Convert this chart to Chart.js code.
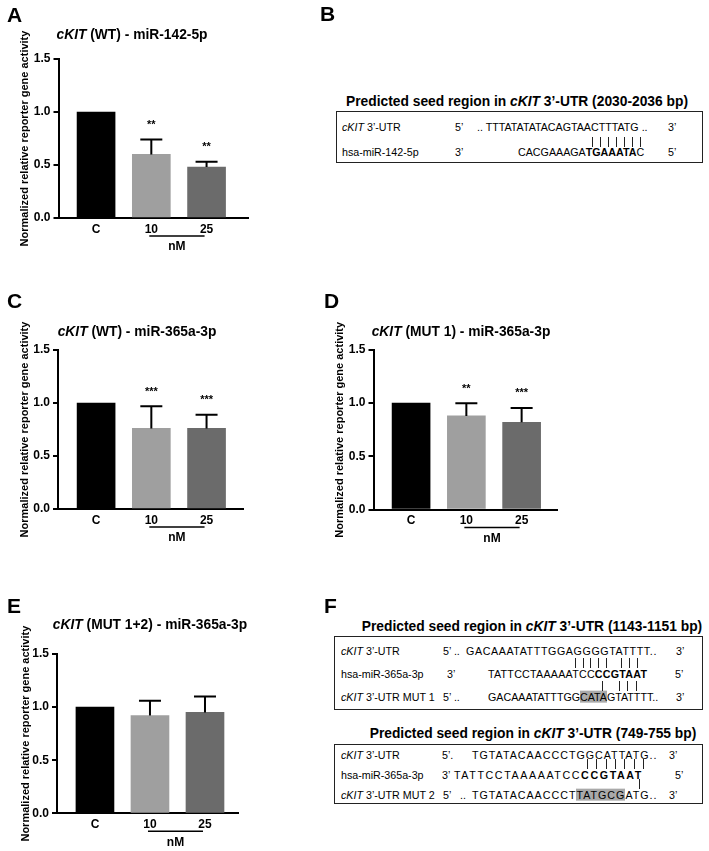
<!DOCTYPE html>
<html>
<head>
<meta charset="utf-8">
<script src="https://cdn.jsdelivr.net/npm/chart.js@4.4.0/dist/chart.umd.min.js"></script>
<style>
  body { margin: 0; background: #fff; font-family: "Liberation Sans", Arial, sans-serif; color: #000; }
  #fig { position: relative; width: 709px; height: 851px; overflow: hidden; }
  canvas { position: absolute; }
  .t { position: absolute; white-space: nowrap; line-height: 1; transform: translate(0, -50%); }
  .c { transform: translate(-50%, -50%); }
  .letter { font-weight: bold; font-size: 21px; }
  .ttl { font-weight: bold; font-size: 13.8px; }
  .seq { font-size: 10.7px; }
  .box { position: absolute; border: 1.5px solid #222; box-sizing: border-box; }
  .hl { background: #a9a9a9; }
  .pair { position: absolute; width: 1px; height: 10px; background: #222; }
</style>
</head>
<body>
<div id="fig">
  <canvas id="chartA"></canvas>
  <canvas id="chartC"></canvas>
  <canvas id="chartD"></canvas>
  <canvas id="chartE"></canvas>

  <!-- panel letters -->
  <div class="t letter" style="left:7px;top:14px">A</div>
  <div class="t letter" style="left:320px;top:13px">B</div>
  <div class="t letter" style="left:7px;top:300px">C</div>
  <div class="t letter" style="left:324px;top:300px">D</div>
  <div class="t letter" style="left:7px;top:605px">E</div>
  <div class="t letter" style="left:324px;top:605px">F</div>

  <!-- chart titles -->
  <div class="t c ttl" style="left:132px;top:35px"><i>cKIT</i> (WT) - miR-142-5p</div>
  <div class="t c ttl" style="left:137px;top:332px"><i>cKIT</i> (WT) - miR-365a-3p</div>
  <div class="t c ttl" style="left:461px;top:332px"><i>cKIT</i> (MUT 1) - miR-365a-3p</div>
  <div class="t c ttl" style="left:150px;top:625px"><i>cKIT</i> (MUT 1+2) - miR-365a-3p</div>

  <!-- B -->
  <div class="t c ttl" style="left:517px;top:102px">Predicted seed region in <i>cKIT</i> 3’-UTR (2030-2036 bp)</div>
  <div class="box" style="left:336px;top:111px;width:367px;height:52px"></div>
  <div class="t seq" style="left:342px;top:127px"><i>cKIT</i> 3’-UTR</div>
  <div class="t seq" style="left:455px;top:127px">5’</div>
  <div class="t seq" style="left:477px;top:127px">.. TTTATATATACAGTAACTTTATG ..</div>
  <div class="t seq" style="left:668px;top:127px">3’</div>
  <div class="t seq" style="left:342px;top:152px">hsa-miR-142-5p</div>
  <div class="t seq" style="left:455px;top:152px">3’</div>
  <div class="t seq" style="left:518px;top:152px">CACGAAAGA<b>TGAAATA</b>C</div>
  <div class="t seq" style="left:668px;top:152px">5’</div>

  <!-- F, first site -->
  <div class="t c ttl" style="left:532px;top:627px">Predicted seed region in <i>cKIT</i> 3’-UTR (1143-1151 bp)</div>
  <div class="box" style="left:334px;top:636px;width:369px;height:74px"></div>
  <div class="t seq" style="left:341px;top:651px"><i>cKIT</i> 3’-UTR</div>
  <div class="t seq" style="left:443px;top:651px">5’ ..</div>
  <div class="t seq" style="left:466px;top:651px;letter-spacing:0.6px">GACAAATATTTGGAGGGGTATTTT..</div>
  <div class="t seq" style="left:676px;top:651px">3’</div>
  <div class="t seq" style="left:341px;top:674px">hsa-miR-365a-3p</div>
  <div class="t seq" style="left:447px;top:674px">3’</div>
  <div class="t seq" style="left:488px;top:674px;letter-spacing:0.25px">TATTCCTAAAAATCC<b>CCGTAAT</b></div>
  <div class="t seq" style="left:675px;top:674px">5’</div>
  <div class="t seq" style="left:341px;top:697px"><i>cKIT</i> 3’-UTR MUT 1</div>
  <div class="t seq" style="left:443px;top:697px">5’ ..</div>
  <div class="t seq" style="left:488px;top:697px">GACAAATATTTGG<span class="hl">CATA</span>GTATTTT..</div>
  <div class="t seq" style="left:676px;top:697px">3’</div>

  <!-- F, second site -->
  <div class="t c ttl" style="left:533px;top:734px">Predicted seed region in <i>cKIT</i> 3’-UTR (749-755 bp)</div>
  <div class="box" style="left:334px;top:744px;width:369px;height:60px"></div>
  <div class="t seq" style="left:341px;top:755px"><i>cKIT</i> 3’-UTR</div>
  <div class="t seq" style="left:442px;top:755px">5’.</div>
  <div class="t seq" style="left:472px;top:755px;letter-spacing:1px">TGTATACAACCCTGGCATTATG..</div>
  <div class="t seq" style="left:669px;top:755px">3’</div>
  <div class="t seq" style="left:341px;top:775px">hsa-miR-365a-3p</div>
  <div class="t seq" style="left:442px;top:775px">3’</div>
  <div class="t seq" style="left:454px;top:775px;letter-spacing:1.6px">TATTCCTAAAAATCC<b>CCGTAAT</b></div>
  <div class="t seq" style="left:675px;top:775px">5’</div>
  <div class="t seq" style="left:341px;top:795px"><i>cKIT</i> 3’-UTR MUT 2</div>
  <div class="t seq" style="left:443px;top:795px">5’</div>
  <div class="t seq" style="left:460px;top:795px">..</div>
  <div class="t seq" style="left:472px;top:795px;letter-spacing:1px">TGTATACAACCCT<span class="hl">TATGCG</span>ATG..</div>
  <div class="t seq" style="left:669px;top:795px">3’</div>
</div>

<script>
// ---------- data ----------
const groups = ["C", "10", "25"];
const unitLabel = "nM";
const barColors = ["#000000", "#9f9f9f", "#6b6b6b"];
const yTicks = [0, 0.5, 1.0, 1.5];
const yTitle = "Normalized relative reporter gene activity";

// A: cKIT (WT) - miR-142-5p
const meanA = [1.0, 0.60, 0.48];
const errA = [0, 0.14, 0.05];
const sigA = ["", "**", "**"];

// C: cKIT (WT) - miR-365a-3p
const meanC = [1.0, 0.76, 0.76];
const errC = [0, 0.21, 0.13];
const sigC = ["", "***", "***"];

// D: cKIT (MUT 1) - miR-365a-3p
const meanD = [1.0, 0.88, 0.82];
const errD = [0, 0.12, 0.135];
const sigD = ["", "**", "***"];

// E: cKIT (MUT 1+2) - miR-365a-3p
const meanE = [1.0, 0.92, 0.95];
const errE = [0, 0.14, 0.15];
const sigE = ["", "", ""];

// base-pairing bars in the sequence boxes
const pairRows = [
  { y: 141.5, xs: [592, 600, 608, 616, 624, 632, 640] },
  { y: 663, xs: [575, 583, 590, 598, 606, 621, 629, 637] },
  { y: 686, xs: [602, 619, 627, 636] },
  { y: 764, xs: [587, 596, 606, 615, 624, 634, 643] },
  { y: 784, xs: [639] }
];

const FONT = '"Liberation Sans", Arial, sans-serif';

const fig = document.getElementById("fig");
pairRows.forEach(row => {
  row.xs.forEach(x => {
    const d = document.createElement("div");
    d.className = "pair";
    d.style.left = Math.round(x) + "px";
    d.style.top = Math.round(row.y - 5) + "px";
    fig.appendChild(d);
  });
});

function makeBarPanel(id, mean, err, sig, box) {
  const canvas = document.getElementById(id);
  canvas.width = box.w;
  canvas.height = box.h;
  canvas.style.left = box.left + "px";
  canvas.style.top = box.top + "px";

  const padLeft = box.titleX - 10.6 - box.left;
  const yWidth = box.L - box.left - padLeft;
  const xHeight = box.top + box.h - box.B;

  const extras = {
    id: "extras_" + id,
    afterDatasetsDraw(chart) {
      const { ctx, scales: { x, y }, chartArea } = chart;
      ctx.save();
      ctx.strokeStyle = "#000";
      ctx.fillStyle = "#000";
      ctx.lineWidth = 2;
      mean.forEach((m, i) => {
        const cx = x.getPixelForValue(i);
        if (err[i]) {
          const top = y.getPixelForValue(m + err[i]);
          ctx.beginPath();
          ctx.moveTo(cx, y.getPixelForValue(m));
          ctx.lineTo(cx, top);
          ctx.moveTo(cx - 11, top);
          ctx.lineTo(cx + 11, top);
          ctx.stroke();
          if (sig[i]) {
            ctx.font = "bold 11px " + FONT;
            ctx.textAlign = "center";
            ctx.textBaseline = "alphabetic";
            ctx.fillText(sig[i], cx, top - 11.5);
          }
        }
      });
      // concentration bracket under 10 and 25
      const by = chartArea.bottom + 18;
      ctx.lineWidth = 1.5;
      ctx.beginPath();
      ctx.moveTo(x.getPixelForValue(1) - 2, by);
      ctx.lineTo(x.getPixelForValue(2) - 2, by);
      ctx.stroke();
      ctx.font = "bold 12px " + FONT;
      ctx.textAlign = "center";
      ctx.textBaseline = "middle";
      ctx.fillText(unitLabel, x.getPixelForValue(1.5) - 2, by + 11);
      ctx.restore();
    }
  };

  return new Chart(canvas, {
    type: "bar",
    data: {
      datasets: [
        {
          data: groups.map((g, i) => ({ x: i, y: mean[i] })),
          backgroundColor: barColors,
          borderWidth: 0,
          barThickness: 38
        }
      ]
    },
    options: {
      responsive: false,
      animation: false,
      events: [],
      layout: {
        padding: {
          left: padLeft,
          top: box.T - box.top,
          right: box.left + box.w - box.R,
          bottom: 0
        }
      },
      plugins: {
        legend: { display: false },
        tooltip: { enabled: false }
      },
      scales: {
        x: {
          type: "linear",
          offset: false,
          min: box.xMin,
          max: box.xMax,
          afterBuildTicks: axis => {
            axis.ticks = groups.map((g, i) => ({ value: i }));
          },
          afterFit: axis => {
            axis.height = xHeight;
          },
          ticks: {
            callback: v => groups[v],
            autoSkip: false,
            maxRotation: 0,
            padding: 4,
            color: "#000",
            font: { family: FONT, size: 12, weight: "bold" }
          },
          grid: { display: false, drawTicks: false, offset: false },
          border: { display: true, color: "#000", width: 2 }
        },
        y: {
          min: yTicks[0],
          max: yTicks[yTicks.length - 1],
          afterFit: axis => {
            axis.width = yWidth;
          },
          ticks: {
            stepSize: yTicks[1] - yTicks[0],
            callback: v => v.toFixed(1),
            padding: 3,
            color: "#000",
            font: { family: FONT, size: 12, weight: "bold" }
          },
          grid: {
            display: true,
            drawOnChartArea: false,
            drawTicks: true,
            tickLength: 5,
            color: "#000",
            lineWidth: 2
          },
          border: { display: true, color: "#000", width: 2 },
          title: {
            display: true,
            text: yTitle,
            color: "#000",
            font: { family: FONT, size: 11, weight: "bold" }
          }
        }
      }
    },
    plugins: [extras]
  });
}

makeBarPanel("chartA", meanA, errA, sigA,
  { left: 0, top: 0, w: 262, h: 262, L: 58.5, R: 248, T: 59, B: 218, titleX: 25, xMin: -0.68, xMax: 2.75 });
makeBarPanel("chartC", meanC, errC, sigC,
  { left: 0, top: 290, w: 262, h: 267, L: 58, R: 243, T: 350, B: 509, titleX: 25, xMin: -0.69, xMax: 2.66 });
makeBarPanel("chartD", meanD, errD, sigD,
  { left: 318, top: 290, w: 262, h: 267, L: 373.5, R: 557, T: 350, B: 509.5, titleX: 340, xMin: -0.68, xMax: 2.64 });
makeBarPanel("chartE", meanE, errE, sigE,
  { left: 0, top: 595, w: 262, h: 256, L: 57, R: 238, T: 654, B: 813.3, titleX: 26, xMin: -0.69, xMax: 2.6 });
</script>
</body>
</html>
